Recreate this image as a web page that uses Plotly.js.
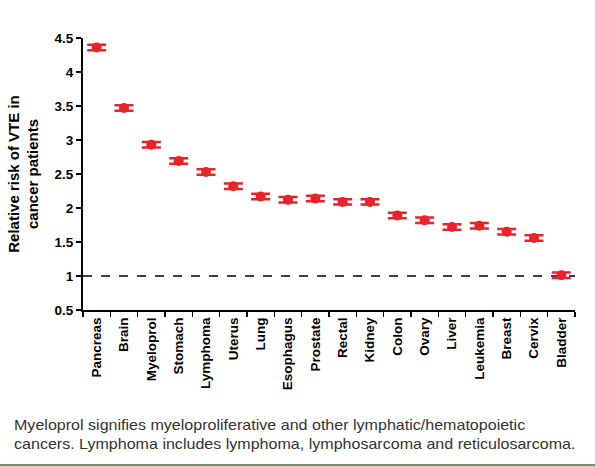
<!DOCTYPE html>
<html>
<head>
<meta charset="utf-8">
<script src="https://cdn.plot.ly/plotly-3.0.1.min.js"></script>
<style>
  html, body { margin: 0; padding: 0; background: #fff; }
  #wrap { position: relative; width: 595px; height: 466px; overflow: hidden; }
  #chart { position: absolute; left: 0; top: 0; width: 595px; height: 466px; }
  #caption { position: absolute; left: 14px; top: 415px; font-family: "Liberation Sans", Arial, sans-serif; font-size: 15px; line-height: 19px; color: #333; white-space: nowrap; transform: scaleX(1.07); transform-origin: left top; }
  #rule { position: absolute; left: 0; top: 464px; width: 595px; height: 2px; background: #6a946a; }
</style>
</head>
<body>
<div id="wrap">
  <div id="chart"></div>
  <div id="caption">Myeloprol signifies myeloproliferative and other lymphatic/hematopoietic<br>cancers. Lymphoma includes lymphoma, lymphosarcoma and reticulosarcoma.</div>
  <div id="rule"></div>
</div>
<script>
const categories = ["Pancreas","Brain","Myeloprol","Stomach","Lymphoma","Uterus","Lung","Esophagus","Prostate","Rectal","Kidney","Colon","Ovary","Liver","Leukemia","Breast","Cervix","Bladder"];
const relativeRisk = [4.36,3.47,2.93,2.69,2.53,2.32,2.17,2.12,2.14,2.09,2.09,1.89,1.82,1.72,1.74,1.65,1.56,1.01];
const riskError = [0.04,0.04,0.04,0.04,0.04,0.04,0.04,0.04,0.04,0.04,0.04,0.04,0.04,0.04,0.04,0.04,0.04,0.04];
const yTicks = [0.5,1,1.5,2,2.5,3,3.5,4,4.5];
const yTickText = ["0.5","1","1.5","2","2.5","3","3.5","4","4.5"];
const referenceLevel = 1;

const red = "#e8232a";
const font = "Liberation Sans, Arial, sans-serif";

const trace = {
  type: "scatter",
  mode: "markers",
  x: categories,
  y: relativeRisk,
  marker: { color: red, size: 10 },
  error_y: { type: "data", array: riskError, visible: true, color: red, thickness: 2.5, width: 9.5 },
  hoverinfo: "x+y"
};

const layout = {
  width: 595, height: 466,
  margin: { l: 83, r: 20, t: 38, b: 156 },
  paper_bgcolor: "#fff", plot_bgcolor: "#fff",
  showlegend: false,
  font: { family: font, color: "#000" },
  xaxis: {
    type: "category",
    range: [-0.5, categories.length - 0.5],
    tickson: "boundaries",
    ticks: "outside", ticklen: 5, tickwidth: 1.5, tickcolor: "#000",
    showline: true, linecolor: "#000", linewidth: 2,
    showgrid: false, zeroline: false,
    tickangle: -90,
    tickfont: { family: font, size: 13.5, weight: "bold", color: "#000" },
    fixedrange: true
  },
  yaxis: {
    range: [0.5, 4.5],
    tickvals: yTicks, ticktext: yTickText,
    ticks: "outside", ticklen: 5, tickwidth: 1.5, tickcolor: "#000",
    showline: true, linecolor: "#000", linewidth: 2,
    showgrid: false, zeroline: false,
    tickfont: { family: font, size: 13.5, weight: "bold", color: "#000" },
    title: { text: "Relative risk of VTE in<br>cancer patients", font: { family: font, size: 15, weight: "bold", color: "#000" }, standoff: 12 },
    automargin: false,
    fixedrange: true
  },
  shapes: [{
    type: "line", xref: "paper", yref: "y",
    x0: 0, x1: 1, y0: referenceLevel, y1: referenceLevel,
    line: { color: "#000", width: 1.6, dash: "dash" },
    layer: "below"
  }]
};

Plotly.newPlot("chart", [trace], layout, { displayModeBar: false, staticPlot: true });
</script>
</body>
</html>
